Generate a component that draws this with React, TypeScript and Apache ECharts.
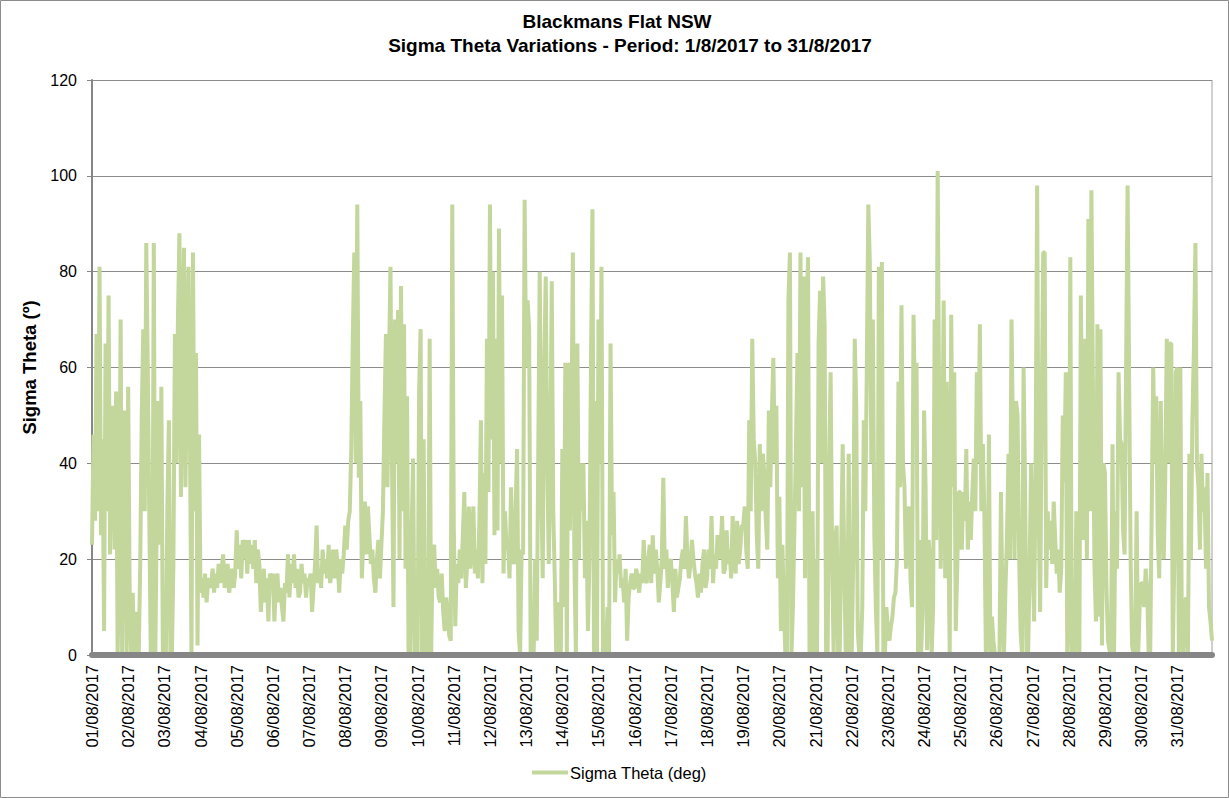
import React, { useEffect, useRef } from "react";
import * as echarts from "echarts";

// Hourly Sigma Theta values (deg), one array per day of August 2017
const d01 = [23,46,28,67,30,81,25,45,5,65,30,75,21,50,52,22,55,0,20,70,0,45,51,0];
const d02 = [56,13,0,13,0,9,0,0,19,50,68,30,86,60,29,0,0,86,0,30,53,23,56,0];
const d03 = [0,0,31,49,0,0,19,67,40,70,88,33,62,85,35,60,81,45,0,84,30,63,2,46];
const d04 = [13,16,12,17,11,15,16,14,18,13,17,14,19,15,18,21,14,17,19,13,16,18,14,17];
const d05 = [26,18,23,16,24,20,24,17,24,19,23,18,24,15,22,19,9,14,18,11,16,7,17,15];
const d06 = [17,7,15,17,11,14,10,7,15,13,21,12,19,15,21,14,18,12,13,19,15,17,12,16];
const d07 = [15,17,9,14,19,27,15,18,14,22,17,20,16,23,15,18,22,16,22,19,13,20,17,21];
const d08 = [27,22,28,30,43,66,84,40,94,37,53,16,24,32,21,31,25,19,22,16,13,20,24,16];
const d09 = [23,30,50,67,35,60,81,40,10,70,40,72,20,77,30,69,18,54,0,0,25,41,0,0];
const d10 = [0,55,68,0,45,0,0,0,66,0,22,23,14,18,12,11,17,9,5,12,9,4,3,94];
const d11 = [27,6,19,15,22,16,25,34,14,20,31,18,24,31,17,22,16,28,49,15,38,19,66,34];
const d12 = [94,45,80,25,66,26,89,40,75,17,30,22,23,16,35,20,19,30,43,5,0,22,21,95];
const d13 = [60,74,68,0,10,0,20,3,40,80,37,16,60,79,42,19,40,78,30,16,0,11,0,0];
const d14 = [43,10,61,0,61,26,45,84,20,0,65,20,40,30,40,16,28,5,20,60,93,0,53,0];
const d15 = [70,40,81,0,0,0,10,0,65,25,34,11,20,17,21,14,16,11,18,3,12,15,17,14];
const d16 = [14,18,16,13,17,15,24,16,15,20,23,15,25,17,22,18,11,15,20,37,18,22,14,19];
const d17 = [20,15,9,18,12,14,16,20,22,18,29,20,16,19,24,20,17,15,12,17,13,19,22,14];
const d18 = [16,22,18,29,15,21,18,25,20,22,29,17,18,26,19,22,16,29,21,17,28,19,22,27];
const d19 = [27,31,22,18,49,30,66,45,40,25,18,44,30,42,38,28,22,51,35,50,62,40,52,16];
const d20 = [33,5,23,10,0,0,74,84,0,10,27,44,63,30,84,35,79,16,70,83,0,0,30,0];
const d21 = [20,0,65,76,40,79,69,0,0,40,59,20,0,24,27,0,0,22,44,20,0,0,42,0];
const d22 = [0,20,66,52,5,0,0,10,49,30,60,94,82,40,70,25,10,0,81,20,82,0,0,10];
const d23 = [5,3,6,8,12,13,20,57,35,73,40,35,18,25,31,16,10,71,50,61,0,24,0,9];
const d24 = [51,35,1,24,20,0,10,70,24,101,51,18,38,74,16,57,28,0,71,35,59,5,18,34];
const d25 = [34,22,34,28,43,22,32,24,34,41,30,59,40,69,30,44,29,0,5,46,0,8,3,0];
const d26 = [0,0,0,34,10,0,14,25,42,20,70,45,20,53,50,22,5,0,60,35,0,0,18,40];
const d27 = [20,7,40,98,30,9,50,84,84,14,30,22,28,19,32,24,17,22,13,18,50,36,59,0];
const d28 = [9,83,0,12,0,30,5,0,75,40,24,66,20,91,30,97,56,19,7,69,8,68,2,40];
const d29 = [38,14,3,1,0,44,0,30,18,59,45,44,26,21,60,98,59,20,2,0,0,30,0,10];
const d30 = [15,15,10,18,14,0,0,30,60,40,54,25,16,53,30,20,37,66,40,65,65,0,20,59];
const d31 = [60,0,60,5,0,11,12,0,42,20,49,64,86,40,35,22,42,30,35,18,38,10,7,3];

const days = [d01,d02,d03,d04,d05,d06,d07,d08,d09,d10,d11,d12,d13,d14,d15,d16,d17,d18,d19,d20,d21,d22,d23,d24,d25,d26,d27,d28,d29,d30,d31];
const dayLabels = days.map((_, i) => `${String(i + 1).padStart(2, "0")}/08/2017`);
const yTicks = { min: 0, max: 120, interval: 20 };

const sigmaTheta: number[] = [];
const categories: string[] = [];
days.forEach((d, i) => {
  d.forEach((v, h) => {
    sigmaTheta.push(v);
    categories.push(`${dayLabels[i]} ${String(h).padStart(2, "0")}:00`);
  });
});

const FONT = "'Liberation Sans', Arial, Helvetica, sans-serif";
const titleStyle = { fontFamily: FONT, fontSize: 19, fontWeight: "bold", color: "#000" };

export default function App() {
  const ref = useRef<HTMLDivElement>(null);
  useEffect(() => {
    document.body.style.margin = "0";
    const chart = echarts.init(ref.current!, null, { renderer: "svg" });
    chart.setOption({
      animation: false,
      backgroundColor: "#fff",
      textStyle: { fontFamily: FONT },
      title: [
        {
          text: "Blackmans Flat NSW",
          left: 612,
          textAlign: "center",
          top: 7,
          textStyle: titleStyle,
        },
        {
          text: "Sigma Theta Variations - Period: 1/8/2017 to 31/8/2017",
          left: 625,
          textAlign: "center",
          top: 31,
          textStyle: titleStyle,
        },
      ],
      legend: {
        bottom: 12,
        left: 527,
        itemWidth: 36,
        itemHeight: 4,
        itemGap: 4,
        icon: "rect",
        textStyle: { fontFamily: FONT, fontSize: 16.5, color: "#000", padding: [0, 0, 0, -3] },
        data: ["Sigma Theta (deg)"],
      },
      grid: { left: 92, right: 17, top: 80, bottom: 143 },
      xAxis: {
        type: "category",
        data: categories,
        boundaryGap: false,
        z: 5,
        axisLine: { show: true, lineStyle: { color: "#868686", width: 6 } },
        axisTick: { show: false },
        axisLabel: {
          interval: (i: number) => i % 24 === 0,
          formatter: (v: string) => v.split(" ")[0],
          rotate: 90,
          margin: 10,
          fontFamily: FONT,
          fontSize: 16.5,
          color: "#000",
        },
        splitLine: { show: false },
      },
      yAxis: {
        type: "value",
        min: yTicks.min,
        max: yTicks.max,
        interval: yTicks.interval,
        name: "Sigma Theta (º)",
        nameLocation: "middle",
        nameGap: 43,
        nameTextStyle: { fontFamily: FONT, fontSize: 18.5, fontWeight: "bold", color: "#000" },
        axisLine: { show: true, lineStyle: { color: "#868686", width: 2 } },
        axisTick: { show: true, inside: false, length: 5, lineStyle: { color: "#868686" } },
        axisLabel: { fontFamily: FONT, fontSize: 16, color: "#000", margin: 15 },
        splitLine: { show: true, lineStyle: { color: "#8c8c8c", width: 1 } },
      },
      series: [
        {
          name: "Sigma Theta (deg)",
          type: "line",
          data: sigmaTheta,
          showSymbol: false,
          symbol: "none",
          itemStyle: { color: "#c3d69b" },
          lineStyle: { color: "#c3d69b", width: 4 },
          emphasis: { disabled: true },
          z: 2,
        },
      ],
      graphic: [
        {
          type: "rect",
          shape: { x: 0.5, y: 0.5, width: 1228, height: 797 },
          style: { fill: "none", stroke: "#8c8c8c", lineWidth: 1 },
          silent: true,
        },
        {
          type: "line",
          shape: { x1: 1212, y1: 80, x2: 1212, y2: 655 },
          style: { stroke: "#a0a0a0", lineWidth: 1 },
          silent: true,
        },
      ],
    });
    return () => chart.dispose();
  }, []);
  return <div ref={ref} style={{ width: 1229, height: 798 }} />;
}
